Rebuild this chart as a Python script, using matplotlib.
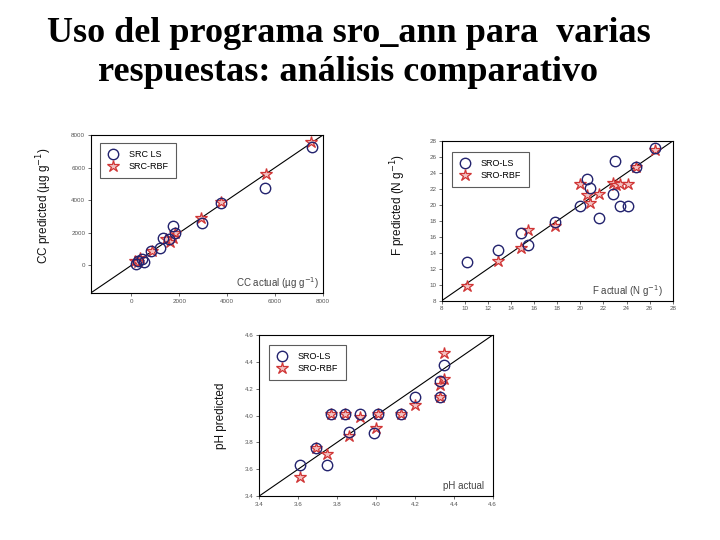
import numpy as np
import matplotlib
matplotlib.use("Agg")
import matplotlib.pyplot as plt

plt.rcParams["font.family"] = ["Liberation Sans", "DejaVu Sans"]

TITLE = "Uso del programa sro_ann para  varias\nrespuestas: análisis comparativo"

# ── CC panel ─────────────────────────────────────────
cc_ls_x = [7540, 5580, 3740, 2930, 1720, 1800, 1300, 1550, 1190, 810, 280, 200, 530, 450]
cc_ls_y = [7260, 4720, 3820, 2600, 2400, 2000, 1660, 1600, 1060, 860, 260, 60, 220, 380]
cc_rbf_x = [7510, 5620, 3740, 2900, 1820, 1720, 1600, 1450, 840, 350, 170, 260]
cc_rbf_y = [7560, 5620, 3860, 2900, 2000, 1700, 1460, 1600, 860, 460, 260, 200]

# ── F panel ──────────────────────────────────────────
f_ls_x = [10.2, 12.9, 14.9, 15.5, 17.8, 20.0, 20.6, 20.8, 21.6, 22.8, 23.0, 23.4, 24.1, 24.8, 26.5]
f_ls_y = [12.8, 14.4, 16.5, 15.0, 17.8, 19.9, 23.2, 22.1, 18.4, 21.4, 25.5, 19.9, 19.9, 24.8, 27.1]
f_rbf_x = [10.2, 12.9, 14.9, 15.5, 17.8, 20.0, 20.6, 20.8, 21.6, 22.8, 23.1, 23.4, 24.1, 24.8, 26.5]
f_rbf_y = [9.8, 13.0, 14.6, 16.8, 17.3, 22.6, 21.2, 20.2, 21.4, 22.8, 22.5, 22.6, 22.6, 24.8, 26.9]

# ── pH panel ─────────────────────────────────────────
ph_ls_x = [3.61, 3.69, 3.75, 3.77, 3.84, 3.86, 3.92, 3.99, 4.01, 4.13, 4.20, 4.33, 4.33, 4.35]
ph_ls_y = [3.63, 3.76, 3.63, 4.01, 4.01, 3.88, 4.01, 3.87, 4.01, 4.01, 4.14, 4.26, 4.14, 4.38]
ph_rbf_x = [3.61, 3.69, 3.75, 3.77, 3.84, 3.86, 3.92, 4.00, 4.01, 4.13, 4.20, 4.33, 4.35, 4.35, 4.33]
ph_rbf_y = [3.54, 3.76, 3.71, 4.01, 4.01, 3.85, 3.99, 3.91, 4.01, 4.01, 4.08, 4.23, 4.27, 4.47, 4.14]

LS_COLOR = "#23236e"
RBF_EDGE = "#d03535"
RBF_FACE = "#f2c2c2"


def draw_panel(ax, ls_x, ls_y, rbf_x, rbf_y, lims, ticks, tick_fmt,
               ylabel, xlabel, labels, ylab_pos, xlab_pos, leg_pos):
    ax.plot(lims, lims, color="black", linewidth=0.8, zorder=1)
    ax.plot(ls_x, ls_y, linestyle="none", marker="o", markersize=7.5,
            markerfacecolor="none", markeredgecolor=LS_COLOR,
            markeredgewidth=1.0, label=labels[0], zorder=3)
    ax.plot(rbf_x, rbf_y, linestyle="none", marker="*", markersize=9,
            markerfacecolor=RBF_FACE, markeredgecolor=RBF_EDGE,
            markeredgewidth=0.9, label=labels[1], zorder=2)
    ax.set_xlim(lims)
    ax.set_ylim(lims)
    ax.set_xticks(ticks)
    ax.set_yticks(ticks)
    ax.set_xticklabels([tick_fmt(t) for t in ticks])
    ax.set_yticklabels([tick_fmt(t) for t in ticks])
    ax.tick_params(labelsize=4.5, colors="#555", length=2, width=0.6, pad=2)
    for sp in ax.spines.values():
        sp.set_linewidth(0.8)
    ax.set_ylabel(ylabel, fontsize=8.5, color="#111")
    ax.yaxis.set_label_coords(*ylab_pos)
    ax.text(xlab_pos[0], xlab_pos[1], xlabel, transform=ax.transAxes,
            ha="right", va="center", fontsize=7, color="#444")
    leg = ax.legend(loc="upper left", bbox_to_anchor=leg_pos, borderaxespad=0,
                    fontsize=6.5, fancybox=False, edgecolor="#333",
                    handletextpad=1.2, borderpad=0.8, labelspacing=0.3,
                    handlelength=1.2)
    leg.get_frame().set_linewidth(0.8)


fig = plt.figure(figsize=(7.2, 5.4), dpi=100)
fig.patch.set_facecolor("white")

fig.text(0.484, 0.968, TITLE, ha="center", va="top", fontsize=26,
         fontweight="bold", family=["Liberation Serif", "DejaVu Serif"],
         linespacing=1.22)

ax1 = fig.add_axes([0.126, 0.4574, 0.3226, 0.2926])
draw_panel(ax1, cc_ls_x, cc_ls_y, cc_rbf_x, cc_rbf_y,
           [-1700, 8000], [0, 2000, 4000, 6000, 8000], lambda t: f"{t:d}",
           "CC predicted (µg g$^{-1}$)", "CC actual (µg g$^{-1}$)",
           ["SRC LS", "SRC-RBF"], (-0.16, 0.55), (0.985, 0.06), (0.04, 0.95))

ax2 = fig.add_axes([0.6135, 0.4431, 0.3208, 0.2957])
draw_panel(ax2, f_ls_x, f_ls_y, f_rbf_x, f_rbf_y,
           [8, 28], list(range(8, 29, 2)), lambda t: f"{t:d}",
           r"F predicted (N g$^{-1}$)", r"F actual (N g$^{-1}$)",
           ["SRO-LS", "SRO-RBF"], (-0.146, 0.6), (0.958, 0.06), (0.045, 0.93))

ax3 = fig.add_axes([0.3601, 0.0815, 0.3242, 0.298])
draw_panel(ax3, ph_ls_x, ph_ls_y, ph_rbf_x, ph_rbf_y,
           [3.4, 4.6], [3.4, 3.6, 3.8, 4.0, 4.2, 4.4, 4.6], lambda t: f"{t:.1f}",
           "pH predicted", "pH actual",
           ["SRO-LS", "SRO-RBF"], (-0.138, 0.5), (0.963, 0.06), (0.042, 0.938))

fig.savefig("out.png", dpi=100, facecolor="white")
